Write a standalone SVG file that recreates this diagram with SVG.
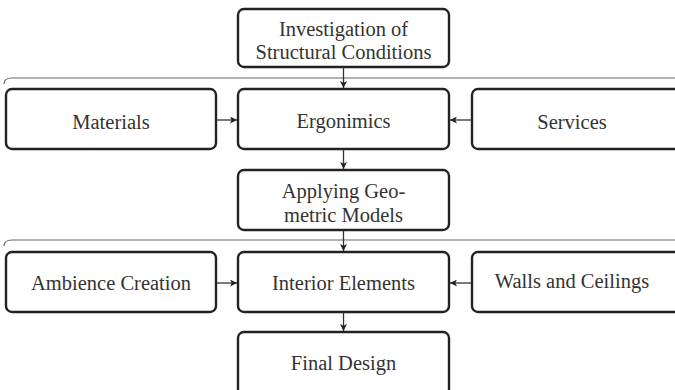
<svg xmlns="http://www.w3.org/2000/svg" width="675" height="390" viewBox="0 0 675 390">
<style>
.box{fill:#fff;stroke:#222;stroke-width:2.4}
.t{font-family:'Liberation Serif','DejaVu Serif','Times New Roman',serif;font-size:20.5px;fill:#333;text-anchor:middle}
.c{stroke:#333;stroke-width:1.3;fill:none}
.sep{stroke:#666;stroke-width:1.2;fill:none}
</style>
<defs>
<marker id="ah" viewBox="0 0 10 10" refX="10" refY="5" markerWidth="7" markerHeight="7" markerUnits="userSpaceOnUse" orient="auto">
<path d="M0,0 L10,5 L0,10 L2.5,5 z" fill="#222"/>
</marker>
</defs>
<g id="separators">
<path class="sep" d="M4,84 Q4,78 12,78 L675,78"/>
<path class="sep" d="M4,246 Q4,240 12,240 L675,240"/>
</g>
<g id="n1"><rect class="box" x="238" y="9" width="211" height="58" rx="6"/><text class="t" x="343.5" y="36">Investigation of</text><text class="t" x="343.5" y="59">Structural Conditions</text></g>
<g id="n2"><rect class="box" x="6" y="89" width="210" height="60" rx="6"/><text class="t" x="111" y="129">Materials</text></g>
<g id="n3"><rect class="box" x="238" y="89" width="211" height="60" rx="6"/><text class="t" x="343.5" y="128">Ergonimics</text></g>
<g id="n4"><rect class="box" x="472" y="89" width="210" height="60" rx="6"/><text class="t" x="572" y="129">Services</text></g>
<g id="n5"><rect class="box" x="238" y="170" width="211" height="60" rx="6"/><text class="t" x="343.5" y="198">Applying Geo-</text><text class="t" x="343.5" y="222">metric Models</text></g>
<g id="n6"><rect class="box" x="6" y="252" width="210" height="60" rx="6"/><text class="t" x="111" y="290">Ambience Creation</text></g>
<g id="n7"><rect class="box" x="238" y="252" width="211" height="60" rx="6"/><text class="t" x="343.5" y="290">Interior Elements</text></g>
<g id="n8"><rect class="box" x="472" y="252" width="210" height="60" rx="6"/><text class="t" x="572" y="288">Walls and Ceilings</text></g>
<g id="n9"><rect class="box" x="238" y="332" width="211" height="66" rx="6"/><text class="t" x="343.5" y="370">Final Design</text></g>
<g id="connectors">
<line class="c" x1="343.5" y1="67" x2="343.5" y2="88" marker-end="url(#ah)"/>
<line class="c" x1="217" y1="120" x2="237" y2="120" marker-end="url(#ah)"/>
<line class="c" x1="471" y1="120" x2="450" y2="120" marker-end="url(#ah)"/>
<line class="c" x1="343.5" y1="149" x2="343.5" y2="169" marker-end="url(#ah)"/>
<line class="c" x1="343.5" y1="230" x2="343.5" y2="251" marker-end="url(#ah)"/>
<line class="c" x1="217" y1="283" x2="237" y2="283" marker-end="url(#ah)"/>
<line class="c" x1="471" y1="283" x2="450" y2="283" marker-end="url(#ah)"/>
<line class="c" x1="343.5" y1="312" x2="343.5" y2="331" marker-end="url(#ah)"/>
</g>
</svg>
